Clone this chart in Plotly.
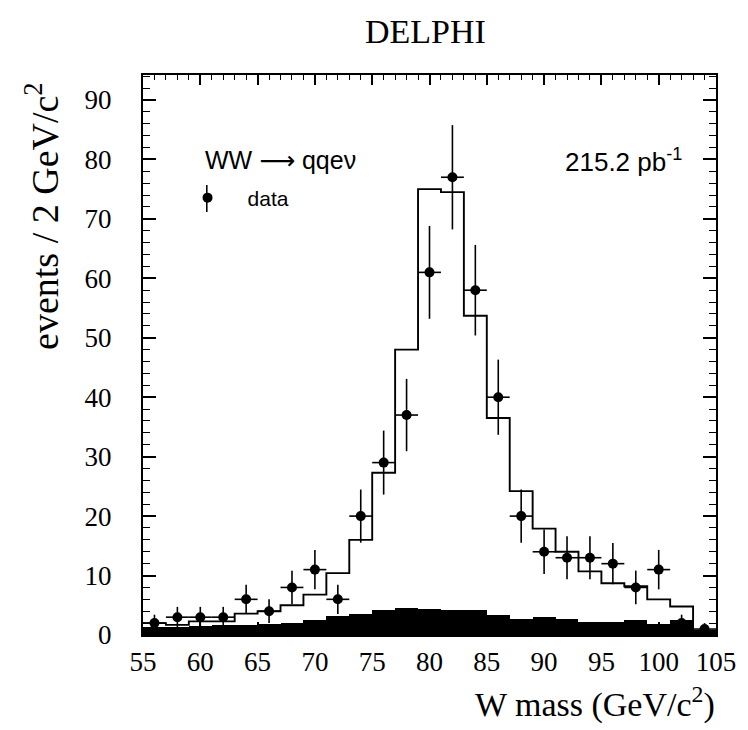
import numpy as np
import plotly.graph_objects as go

# ---- data ----
bin_centers = [56, 58, 60, 62, 64, 66, 68, 70, 72, 74, 76, 78, 80, 82, 84,
               86, 88, 90, 92, 94, 96, 98, 100, 102, 104]
bin_width = 2.0
data_counts = [2, 3, 3, 3, 6, 4, 8, 11, 6, 20, 29, 37, 61, 77, 58,
               40, 20, 14, 13, 13, 12, 8, 11, 2, 1]
mc_total = [2.0, 1.7, 2.3, 2.3, 3.6, 4.0, 5.0, 6.8, 10.4, 16.0, 27.3, 48.0, 75.0, 74.5, 53.7,
            36.5, 24.2, 17.9, 14.0, 10.7, 8.7, 8.2, 6.0, 4.8, 0.7]
mc_background = [1.4, 1.4, 1.5, 1.6, 1.7, 1.8, 2.0, 2.5, 3.2, 3.5, 4.2, 4.6, 4.3, 4.2, 4.2,
                 3.3, 2.7, 3.1, 2.7, 2.2, 2.2, 2.5, 1.9, 2.5, 0.7]
x_ticks = [55, 60, 65, 70, 75, 80, 85, 90, 95, 100, 105]
y_ticks = [0, 10, 20, 30, 40, 50, 60, 70, 80, 90]
x_range = [55, 105]
y_range = [0, 94.2]

centers = np.array(bin_centers, dtype=float)
edges = np.append(centers - bin_width / 2, centers[-1] + bin_width / 2)
mc_step = list(mc_total) + [mc_total[-1]]
counts = np.array(data_counts, dtype=float)

SERIF = "Liberation Serif, Times New Roman, serif"
SANS = "Liberation Sans, Arial, DejaVu Sans, sans-serif"

# plot-area geometry in pixels (for placing texts in paper units)
PL, PR, PT, PB = 143, 727, 75, 635
def px(x):
    return (x - PL) / (PR - PL)
def py(y):
    return (PB - y) / (PB - PT)

fig = go.Figure()

# background (filled black histogram)
fig.add_trace(go.Bar(
    x=centers, y=mc_background, width=bin_width,
    marker=dict(color="black", line=dict(width=0)),
    showlegend=False, hoverinfo="skip"))

# total MC (step line)
fig.add_trace(go.Scatter(
    x=edges, y=mc_step, mode="lines", line_shape="hv",
    line=dict(color="black", width=1.9),
    showlegend=False, hoverinfo="skip"))

# data points
fig.add_trace(go.Scatter(
    x=centers, y=counts, mode="markers", name="data",
    marker=dict(color="black", size=10, symbol="circle"),
    error_y=dict(type="data", array=np.sqrt(counts), color="black", thickness=1.6, width=0),
    error_x=dict(type="constant", value=bin_width / 2, color="black", thickness=1.6, width=0),
    showlegend=True))

# empty trace on the mirror axes so the top/right tick axes are drawn
fig.add_trace(go.Scatter(x=[], y=[], xaxis="x2", yaxis="y2", showlegend=False,
                         hoverinfo="skip"))

key_x = px(208)

fig.update_layout(
    width=748, height=730,
    margin=dict(l=PL, r=748 - PR, t=PT, b=730 - PB),
    paper_bgcolor="white", plot_bgcolor="white",
    bargap=0, barmode="overlay",
    legend=dict(x=px(168), y=py(198), xanchor="left", yanchor="middle",
                itemwidth=70,
                font=dict(family=SANS, size=21, color="black"),
                bgcolor="rgba(0,0,0,0)"),
    annotations=[
        dict(text="DELPHI", xref="paper", yref="paper", x=px(431), y=py(31),
             xanchor="center", yanchor="middle", showarrow=False,
             font=dict(family=SERIF, size=34, color="black")),
        dict(text="events / 2 GeV/c<sup>2</sup>", xref="paper", yref="paper",
             x=px(40), y=py(80), xanchor="center", yanchor="top",
             textangle=-90, showarrow=False,
             font=dict(family=SERIF, size=38, color="black")),
        dict(text="W mass (GeV/c<sup>2</sup>)", xref="paper", yref="paper",
             x=px(728), y=py(702), xanchor="right", yanchor="middle",
             showarrow=False, font=dict(family=SERIF, size=34, color="black")),
        dict(text="WW \u27f6 qqe\u03bd", xref="paper", yref="paper",
             x=px(204), y=py(160), xanchor="left", yanchor="middle",
             showarrow=False, font=dict(family=SANS, size=25, color="black")),
        dict(text="215.2 pb<sup>-1</sup>", xref="paper", yref="paper",
             x=px(694), y=py(160), xanchor="right", yanchor="middle",
             showarrow=False, font=dict(family=SANS, size=26, color="black")),
    ],
    shapes=[
        dict(type="line", xref="paper", yref="paper", x0=key_x, x1=key_x,
             y0=py(212), y1=py(185),
             line=dict(color="black", width=1.6)),
    ],
)

axis_common = dict(showgrid=False, zeroline=False, tickcolor="black")

fig.update_layout(
    xaxis=dict(
        range=x_range, tickvals=x_ticks, ticks="inside", ticklen=13, tickwidth=1.5,
        showline=True, linewidth=2.4, linecolor="black", mirror=True,
        ticklabelstandoff=1,
        tickfont=dict(family=SERIF, size=27, color="black"),
        minor=dict(dtick=1, ticks="inside", ticklen=7, tickwidth=1.2, tickcolor="black",
                   showgrid=False),
        **axis_common),
    yaxis=dict(
        range=y_range, tickvals=y_ticks, ticks="inside", ticklen=13, tickwidth=1.5,
        showline=True, linewidth=2.4, linecolor="black", mirror=True,
        ticklabelstandoff=24,
        tickfont=dict(family=SERIF, size=27, color="black"),
        minor=dict(dtick=2, ticks="inside", ticklen=7, tickwidth=1.2, tickcolor="black",
                   showgrid=False),
        **axis_common),
    xaxis2=dict(
        range=x_range, tickvals=x_ticks, overlaying="x", side="top", anchor="y2",
        ticks="inside", ticklen=10, tickwidth=1.5, showticklabels=False, showline=False,
        minor=dict(dtick=1, ticks="inside", ticklen=5, tickwidth=1.2, tickcolor="black",
                   showgrid=False),
        **axis_common),
    yaxis2=dict(
        range=y_range, tickvals=y_ticks, overlaying="y", side="right", anchor="x2",
        ticks="inside", ticklen=13, tickwidth=1.5, showticklabels=False, showline=False,
        minor=dict(dtick=2, ticks="inside", ticklen=7, tickwidth=1.2, tickcolor="black",
                   showgrid=False),
        **axis_common),
)

fig.write_html("out.html")
